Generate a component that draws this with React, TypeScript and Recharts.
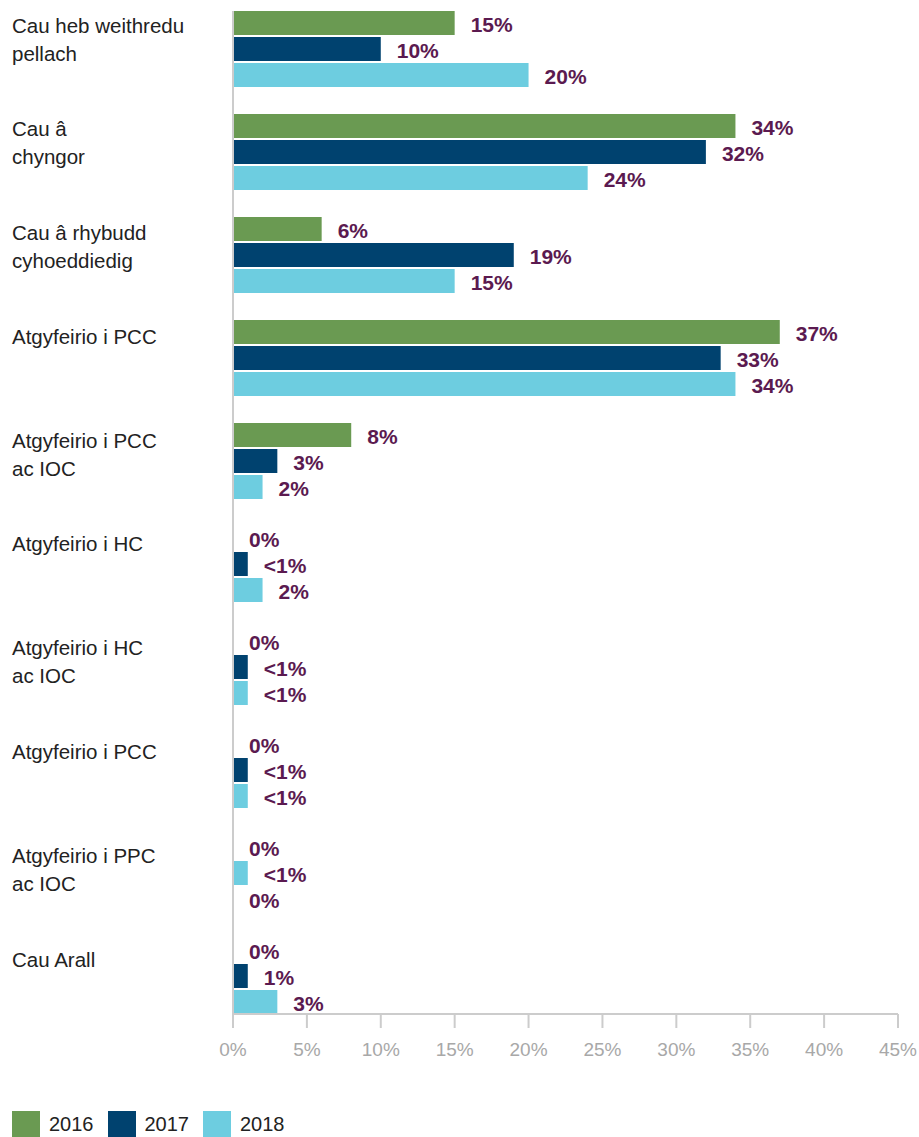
import { BarChart, Bar, XAxis, YAxis, Cell, LabelList } from 'recharts';

const categories = [
  'Cau heb weithredu pellach',
  'Cau â chyngor',
  'Cau â rhybudd cyhoeddiedig',
  'Atgyfeirio i PCC',
  'Atgyfeirio i PCC ac IOC',
  'Atgyfeirio i HC',
  'Atgyfeirio i HC ac IOC',
  'Atgyfeirio i PCC',
  'Atgyfeirio i PPC ac IOC',
  'Cau Arall',
];

// how each category label wraps on the left
const categoryLines = [
  ['Cau heb weithredu', 'pellach'],
  ['Cau â', 'chyngor'],
  ['Cau â rhybudd', 'cyhoeddiedig'],
  ['Atgyfeirio i PCC'],
  ['Atgyfeirio i PCC', 'ac IOC'],
  ['Atgyfeirio i HC'],
  ['Atgyfeirio i HC', 'ac IOC'],
  ['Atgyfeirio i PCC'],
  ['Atgyfeirio i PPC', 'ac IOC'],
  ['Cau Arall'],
];

const values2016 = [15, 34, 6, 37, 8, 0, 0, 0, 0, 0];
const values2017 = [10, 32, 19, 33, 3, 1, 1, 1, 1, 1];
const values2018 = [20, 24, 15, 34, 2, 2, 1, 1, 0, 3];

const labels2016 = ['15%', '34%', '6%', '37%', '8%', '0%', '0%', '0%', '0%', '0%'];
const labels2017 = ['10%', '32%', '19%', '33%', '3%', '<1%', '<1%', '<1%', '<1%', '1%'];
const labels2018 = ['20%', '24%', '15%', '34%', '2%', '2%', '<1%', '<1%', '0%', '3%'];

const xTicks = [0, 5, 10, 15, 20, 25, 30, 35, 40, 45];
const years = ['2016', '2017', '2018'];

const C2016 = '#6a9a52';
const C2017 = '#00426f';
const C2018 = '#6dcde0';
const LABEL = '#5b1a50';
const FONT = '"Liberation Sans", Arial, Helvetica, sans-serif';

const data = categories.map((name, i) => ({
  name, idx: i,
  v2016: values2016[i], v2017: values2017[i], v2018: values2018[i],
  l2016: labels2016[i], l2017: labels2017[i], l2018: labels2018[i],
}));

const BarLabel = (props: any) => {
  const { x, y, width, height, value } = props;
  const bx = Number(x);
  const bw = Number(width) || 0;
  if (!Number.isFinite(bx)) return null;
  return (
    <text x={bx + bw + 16} y={Number(y) + Number(height) / 2 + 1}
      dominantBaseline="central" fill={LABEL} fontSize={21} fontWeight={700} fontFamily={FONT}>
      {value}
    </text>
  );
};

const CategoryTick = (props: any) => {
  const { y, payload } = props;
  const i = payload.index;
  const lines = categoryLines[i] ?? [String(payload.value)];
  const top = y - 24 + 0.78 * i;
  return (
    <text x={12} y={top} fill="#222" fontSize={20.5} fontFamily={FONT}>
      {lines.map((l: string, k: number) => (
        <tspan key={k} x={12} dy={k === 0 ? 0 : 28} dominantBaseline="central">{l}</tspan>
      ))}
    </text>
  );
};

export default function App() {
  const colors = [C2016, C2017, C2018];
  return (
    <div style={{ position: 'absolute', left: 0, top: 0, width: 919, height: 1137, background: '#fff', fontFamily: FONT }}>
      <BarChart width={919} height={1070} data={data} layout="vertical"
        margin={{ top: 11, right: 21, bottom: 10, left: 0 }}
        barCategoryGap={13.5} barGap={2}>
        <XAxis type="number" domain={[0, 45]} ticks={xTicks} tickFormatter={(v) => `${v}%`}
          axisLine={{ stroke: '#cccccc', strokeWidth: 2 }} tickLine={{ stroke: '#cccccc', strokeWidth: 2 }}
          tickSize={14} tickMargin={15} height={46}
          tick={{ fill: '#a8a8a8', fontSize: 19, fontFamily: FONT }} />
        <YAxis type="category" dataKey="name" width={233} interval={0}
          axisLine={{ stroke: '#cccccc', strokeWidth: 2 }} tickLine={false}
          padding={{ top: -13.5, bottom: -13.5 }} tick={<CategoryTick />} />
        <Bar dataKey="v2016" fill={C2016} minPointSize={0.01} isAnimationActive={false}>
          <LabelList dataKey="l2016" content={<BarLabel />} />
        </Bar>
        <Bar dataKey="v2017" fill={C2017} minPointSize={0.01} isAnimationActive={false}>
          {/* the PPC ac IOC bar is drawn light blue in the source */}
          {data.map((d) => <Cell key={d.idx} fill={d.idx === 8 ? C2018 : C2017} />)}
          <LabelList dataKey="l2017" content={<BarLabel />} />
        </Bar>
        <Bar dataKey="v2018" fill={C2018} minPointSize={0.01} isAnimationActive={false}>
          <LabelList dataKey="l2018" content={<BarLabel />} />
        </Bar>
      </BarChart>
      <div style={{ position: 'absolute', left: 12, top: 1111, display: 'flex', alignItems: 'center' }}>
        {years.map((y, i) => (
          <div key={y} style={{ display: 'flex', alignItems: 'center', marginRight: 14 }}>
            <div style={{ width: 28, height: 26, background: colors[i], marginRight: 9 }} />
            <span style={{ fontSize: 20, color: '#222' }}>{y}</span>
          </div>
        ))}
      </div>
    </div>
  );
}
